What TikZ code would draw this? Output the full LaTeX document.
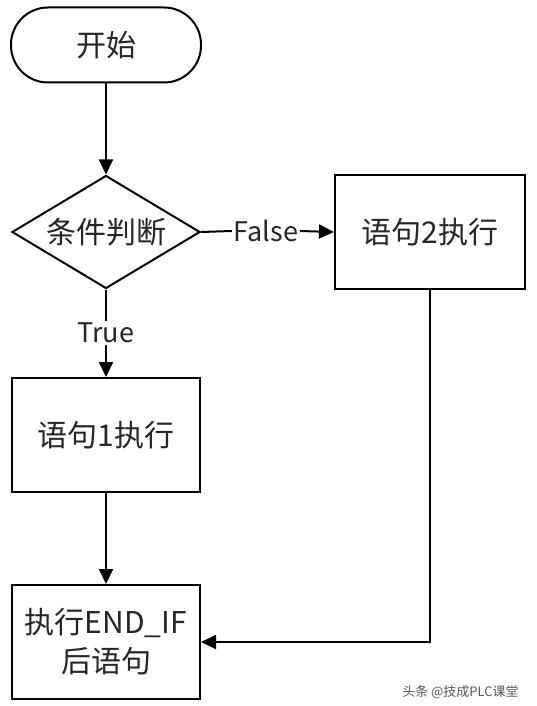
\documentclass[tikz,border=0pt]{standalone}
\usepackage{fontspec}
\setmainfont{Noto Sans CJK SC}
\usetikzlibrary{shapes.geometric,arrows.meta}
\tikzset{
  box/.style={draw,line width=2pt,minimum width=188pt,minimum height=114pt,inner sep=0pt,
    font=\fontsize{30pt}{39pt}\selectfont,align=center,text=black!85},
  lbl/.style={inner sep=1pt,font=\fontsize{27pt}{32pt}\selectfont,text=black!85},
  arr/.style={line width=2pt,-{Triangle[length=15pt,width=14pt]}}
}
\begin{document}
\begin{tikzpicture}[x=1pt,y=-1pt,line width=2pt]
\useasboundingbox[fill=white] (0,0) rectangle (536,706);
\node[box,rounded corners=37pt,minimum width=190pt,minimum height=75pt] (start) at (106,45) {开始};
\node[box,diamond,aspect=1.66,minimum height=113pt] (cond) at (106,232) {条件判断};
\node[box,minimum width=190pt] (stmt2) at (430,232) {语句2执行};
\node[box] (stmt1) at (106,435) {语句1执行};
\node[box] (after) at (106,642) {执行END\_IF\\后语句};
\node[lbl] (false) at (266,231) {False};
\node[lbl] (true) at (106,333) {True};
\draw[arr] (start) -- (cond);
\draw (cond.east) -- (false.west); \draw[arr] (false.east) -- (stmt2.west);
\draw (cond.south) -- (true.north); \draw[arr] (true.south) -- (stmt1.north);
\draw[arr] (stmt1) -- (after);
\draw[arr] (stmt2.south) |- (after.east);
\node[anchor=east,font=\fontsize{13pt}{15pt}\selectfont,text=black!65] (mark) at (523,692) {头条 @技成PLC课堂};
\end{tikzpicture}
\end{document}
